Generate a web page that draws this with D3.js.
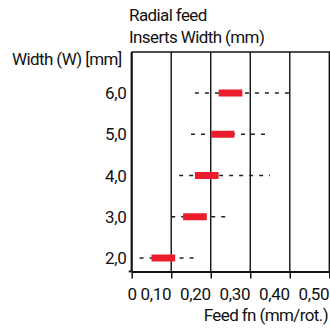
<!DOCTYPE html>
<html><head><meta charset="utf-8">
<script src="https://cdn.jsdelivr.net/npm/d3@7"></script>
<style>body{margin:0;background:#fff}svg{display:block}text{font-family:Roboto,"Noto Sans",sans-serif;fill:#111}</style>
</head><body><svg id="c" width="330" height="328"></svg>
<script>
const widths = ["6,0","5,0","4,0","3,0","2,0"];
const rangeMin = [0.16,0.15,0.12,0.10,0.02];
const rangeMax = [0.40,0.34,0.35,0.25,0.17];
const recMin = [0.22,0.20,0.16,0.13,0.05];
const recMax = [0.28,0.26,0.22,0.19,0.11];
const xTicks = [0,0.1,0.2,0.3,0.4,0.5];
const xTickLabels = ["0","0,10","0,20","0,30","0,40","0,50"];

(function(){
const svg = d3.select("#c");
const x = d3.scaleLinear().domain([0,0.5]).range([131.7,329.3]);
const y = d3.scalePoint().domain(widths).range([93,258]);
const plotTop = 52, plotBottom = 271.5;
const fs = 17;

svg.selectAll("line.grid").data(xTicks.slice(1)).join("line")
  .attr("x1",d=>x(d)).attr("x2",d=>x(d)).attr("y1",plotTop).attr("y2",plotBottom)
  .attr("stroke","#111").attr("stroke-width",1.4);
svg.append("line").attr("x1",x(0)).attr("x2",x(0.5)+1).attr("y1",plotTop).attr("y2",plotTop).attr("stroke","#111").attr("stroke-width",1.4);

const xa = svg.append("g").attr("transform",`translate(0,${plotBottom})`)
  .call(d3.axisBottom(x).tickValues(xTicks).tickFormat((d,i)=>xTickLabels[i]).tickSize(7).tickSizeOuter(0));
xa.select(".domain").attr("stroke","#111").attr("stroke-width",1.8);
xa.selectAll(".tick line").attr("stroke","#111").attr("stroke-width",1.5);
xa.selectAll(".tick text").attr("font-size",fs).attr("dy",0).attr("y",28)
  .attr("font-family","Roboto").attr("fill","#111").attr("letter-spacing",-0.3)
  .attr("text-anchor",(d,i)=>i===0?"middle":"end")
  .attr("x",(d,i)=>i===0?0:-0.5);
svg.append("line").attr("x1",x(0)).attr("x2",x(0)).attr("y1",plotTop).attr("y2",plotBottom).attr("stroke","#111").attr("stroke-width",2.2);
svg.append("line").attr("x1",x(0)-3).attr("x2",x(0)).attr("y1",plotBottom).attr("y2",plotBottom).attr("stroke","#111").attr("stroke-width",1.8);

svg.selectAll("text.yl").data(widths).join("text")
  .attr("x",126.5).attr("y",d=>y(d)+6).attr("text-anchor","end").attr("font-size",fs).attr("letter-spacing",-0.3).text(d=>d);

svg.selectAll("line.rng").data(widths).join("line")
  .attr("x1",(d,i)=>x(rangeMin[i])).attr("x2",(d,i)=>x(rangeMax[i]))
  .attr("y1",d=>y(d)).attr("y2",d=>y(d))
  .attr("stroke","#222").attr("stroke-width",1.5).attr("stroke-dasharray","4,6");
svg.selectAll("rect.rec").data(widths).join("rect")
  .attr("x",(d,i)=>x(recMin[i])).attr("width",(d,i)=>x(recMax[i])-x(recMin[i]))
  .attr("y",d=>y(d)-3.5).attr("height",7).attr("fill","#ec1c2e");

const ls = -0.6;
svg.append("text").attr("x",129).attr("y",21).attr("font-size",fs).attr("letter-spacing",ls).text("Radial feed");
svg.append("text").attr("x",129).attr("y",43).attr("font-size",fs).attr("letter-spacing",ls).text("Inserts Width (mm)");
svg.append("text").attr("x",12).attr("y",65).attr("font-size",fs).attr("letter-spacing",ls).text("Width (W) [mm]");
svg.append("text").attr("x",328).attr("y",321).attr("text-anchor","end").attr("font-size",fs).attr("letter-spacing",ls).text("Feed fn (mm/rot.)");
})();
</script></body></html>
